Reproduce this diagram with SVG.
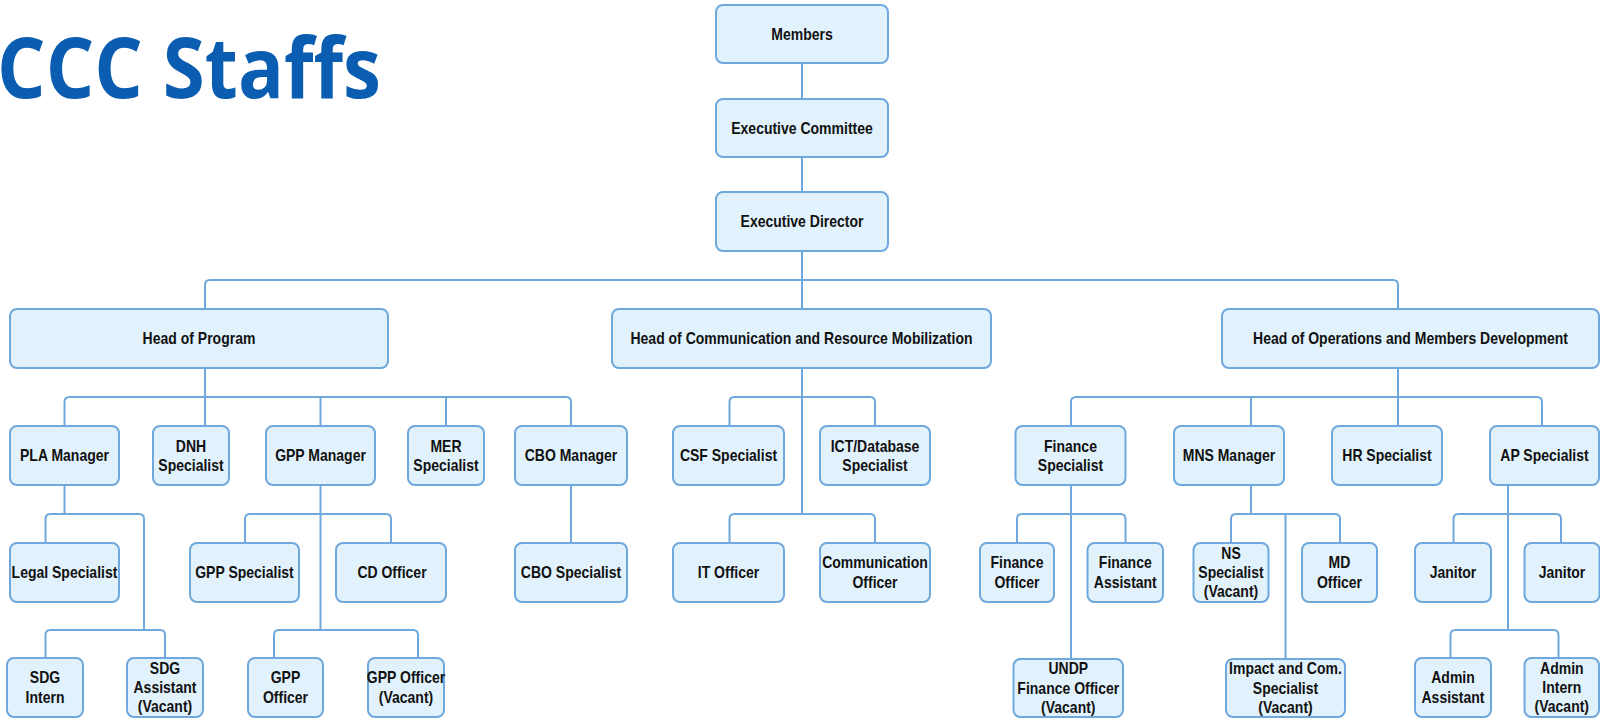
<svg xmlns="http://www.w3.org/2000/svg" width="1600" height="719" viewBox="0 0 1600 719">
<style>
.bx{fill:#E1F2FC;stroke:#6FA8DC;stroke-width:2}
.cn{fill:none;stroke:#6FA8DC;stroke-width:2}
.t{font-family:"Liberation Sans",Arial,sans-serif;font-weight:bold;font-size:14px;fill:#111;text-anchor:middle;transform-box:fill-box;transform-origin:center;transform:scaleY(1.15)}
.title{font-family:"Open Sans","Liberation Sans",sans-serif;font-weight:700;font-size:84px;fill:#0A5DB0}
</style>
<rect width="1600" height="719" fill="#ffffff"/>
<text class="title" x="-3" y="98" textLength="384" lengthAdjust="spacingAndGlyphs">CCC Staffs</text>

<g id="connectors">
<path class="cn" d="M802 63V99"/>
<path class="cn" d="M802 157V192"/>
<path class="cn" d="M802 251V309"/>
<path class="cn" d="M205 309V285Q205 280 210 280H1393Q1398 280 1398 285V309"/>
<path class="cn" d="M205 368V426"/>
<path class="cn" d="M64.5 426V402Q64.5 397 69.5 397H566Q571 397 571 402V426"/>
<path class="cn" d="M320.5 397V426M446 397V426"/>
<path class="cn" d="M64.5 485V514"/>
<path class="cn" d="M45.5 543V519Q45.5 514 50.5 514H139Q144 514 144 519V630"/>
<path class="cn" d="M45.5 658V635Q45.5 630 50.5 630H160Q165 630 165 635V658"/>
<path class="cn" d="M320.5 485V630"/>
<path class="cn" d="M245 543V519Q245 514 250 514H386Q391 514 391 519V543"/>
<path class="cn" d="M274 658V635Q274 630 279 630H413Q418 630 418 635V658"/>
<path class="cn" d="M571 485V543"/>
<path class="cn" d="M802 368V514"/>
<path class="cn" d="M729.5 426V402Q729.5 397 734.5 397H870Q875 397 875 402V426"/>
<path class="cn" d="M729.5 543V519Q729.5 514 734.5 514H870Q875 514 875 519V543"/>
<path class="cn" d="M1398 368V426"/>
<path class="cn" d="M1071 426V402Q1071 397 1076 397H1537Q1542 397 1542 402V426"/>
<path class="cn" d="M1251 397V426"/>
<path class="cn" d="M1071 485V659"/>
<path class="cn" d="M1017 543V519Q1017 514 1022 514H1120.5Q1125.5 514 1125.5 519V543"/>
<path class="cn" d="M1251 485V514"/>
<path class="cn" d="M1231 543V519Q1231 514 1236 514H1335Q1340 514 1340 519V543"/>
<path class="cn" d="M1285.5 514V659"/>
<path class="cn" d="M1508 485V630"/>
<path class="cn" d="M1453.5 543V519Q1453.5 514 1458.5 514H1556Q1561 514 1561 519V543"/>
<path class="cn" d="M1450.5 658V635Q1450.5 630 1455.5 630H1553.5Q1558.5 630 1558.5 635V658"/>
</g>

<g id="members"><rect class="bx" x="716" y="5" width="172" height="58" rx="7"/><text class="t" x="802" y="38.9">Members</text></g>
<g id="exec-committee"><rect class="bx" x="716" y="99" width="172" height="58" rx="7"/><text class="t" x="802" y="132.9">Executive Committee</text></g>
<g id="exec-director"><rect class="bx" x="716" y="192" width="172" height="59" rx="7"/><text class="t" x="802" y="226.4">Executive Director</text></g>

<g id="head-program"><rect class="bx" x="10" y="309" width="378" height="59" rx="7"/><text class="t" x="199" y="343.4">Head of Program</text></g>
<g id="head-comm"><rect class="bx" x="612" y="309" width="379" height="59" rx="7"/><text class="t" x="801.5" y="343.4">Head of Communication and Resource Mobilization</text></g>
<g id="head-ops"><rect class="bx" x="1222" y="309" width="377" height="59" rx="7"/><text class="t" x="1410.5" y="343.4">Head of Operations and Members Development</text></g>

<g id="pla-manager"><rect class="bx" x="10" y="426" width="109" height="59" rx="7"/><text class="t" x="64.5" y="460.4">PLA Manager</text></g>
<g id="dnh-specialist"><rect class="bx" x="153" y="426" width="76" height="59" rx="7"/><text class="t" x="191" y="452"><tspan x="191">DNH</tspan><tspan x="191" dy="16.8">Specialist</tspan></text></g>
<g id="gpp-manager"><rect class="bx" x="266" y="426" width="109" height="59" rx="7"/><text class="t" x="320.5" y="460.4">GPP Manager</text></g>
<g id="mer-specialist"><rect class="bx" x="408" y="426" width="76" height="59" rx="7"/><text class="t" x="446" y="452"><tspan x="446">MER</tspan><tspan x="446" dy="16.8">Specialist</tspan></text></g>
<g id="cbo-manager"><rect class="bx" x="515" y="426" width="112" height="59" rx="7"/><text class="t" x="571" y="460.4">CBO Manager</text></g>
<g id="csf-specialist"><rect class="bx" x="673" y="426" width="111" height="59" rx="7"/><text class="t" x="728.5" y="460.4">CSF Specialist</text></g>
<g id="ict-specialist"><rect class="bx" x="820" y="426" width="110" height="59" rx="7"/><text class="t" x="875" y="452"><tspan x="875">ICT/Database</tspan><tspan x="875" dy="16.8">Specialist</tspan></text></g>
<g id="finance-specialist"><rect class="bx" x="1015.5" y="426" width="110" height="59" rx="7"/><text class="t" x="1070.5" y="452"><tspan x="1070.5">Finance</tspan><tspan x="1070.5" dy="16.8">Specialist</tspan></text></g>
<g id="mns-manager"><rect class="bx" x="1174" y="426" width="110" height="59" rx="7"/><text class="t" x="1229" y="460.4">MNS Manager</text></g>
<g id="hr-specialist"><rect class="bx" x="1332" y="426" width="110" height="59" rx="7"/><text class="t" x="1387" y="460.4">HR Specialist</text></g>
<g id="ap-specialist"><rect class="bx" x="1490" y="426" width="109" height="59" rx="7"/><text class="t" x="1544.5" y="460.4">AP Specialist</text></g>

<g id="legal-specialist"><rect class="bx" x="10" y="543" width="109" height="59" rx="7"/><text class="t" x="64.5" y="577.4">Legal Specialist</text></g>
<g id="gpp-specialist"><rect class="bx" x="190" y="543" width="109" height="59" rx="7"/><text class="t" x="244.5" y="577.4">GPP Specialist</text></g>
<g id="cd-officer"><rect class="bx" x="336" y="543" width="110" height="59" rx="7"/><text class="t" x="392" y="577.4">CD Officer</text></g>
<g id="cbo-specialist"><rect class="bx" x="515" y="543" width="112" height="59" rx="7"/><text class="t" x="571" y="577.4">CBO Specialist</text></g>
<g id="it-officer"><rect class="bx" x="673" y="543" width="111" height="59" rx="7"/><text class="t" x="728.5" y="577.4">IT Officer</text></g>
<g id="comm-officer"><rect class="bx" x="820" y="543" width="110" height="59" rx="7"/><text class="t" x="875" y="569"><tspan x="875">Communication</tspan><tspan x="875" dy="16.8">Officer</tspan></text></g>
<g id="finance-officer"><rect class="bx" x="980" y="543" width="74" height="59" rx="7"/><text class="t" x="1017" y="569"><tspan x="1017">Finance</tspan><tspan x="1017" dy="16.8">Officer</tspan></text></g>
<g id="finance-assistant"><rect class="bx" x="1087.5" y="543" width="75.5" height="59" rx="7"/><text class="t" x="1125.3" y="569"><tspan x="1125.3">Finance</tspan><tspan x="1125.3" dy="16.8">Assistant</tspan></text></g>
<g id="ns-specialist"><rect class="bx" x="1193.5" y="543" width="75" height="59" rx="7"/><text class="t" x="1231" y="560.6"><tspan x="1231">NS</tspan><tspan x="1231" dy="16.8">Specialist</tspan><tspan x="1231" dy="16.8">(Vacant)</tspan></text></g>
<g id="md-officer"><rect class="bx" x="1302" y="543" width="75" height="59" rx="7"/><text class="t" x="1339.5" y="569"><tspan x="1339.5">MD</tspan><tspan x="1339.5" dy="16.8">Officer</tspan></text></g>
<g id="janitor-1"><rect class="bx" x="1415" y="543" width="76" height="59" rx="7"/><text class="t" x="1453" y="577.4">Janitor</text></g>
<g id="janitor-2"><rect class="bx" x="1524.5" y="543" width="75" height="59" rx="7"/><text class="t" x="1562" y="577.4">Janitor</text></g>

<g id="sdg-intern"><rect class="bx" x="7" y="658" width="76" height="59" rx="7"/><text class="t" x="45" y="684"><tspan x="45">SDG</tspan><tspan x="45" dy="16.8">Intern</tspan></text></g>
<g id="sdg-assistant"><rect class="bx" x="127" y="658" width="76" height="59" rx="7"/><text class="t" x="165" y="675.6"><tspan x="165">SDG</tspan><tspan x="165" dy="16.8">Assistant</tspan><tspan x="165" dy="16.8">(Vacant)</tspan></text></g>
<g id="gpp-officer-1"><rect class="bx" x="248" y="658" width="75" height="59" rx="7"/><text class="t" x="285.5" y="684"><tspan x="285.5">GPP</tspan><tspan x="285.5" dy="16.8">Officer</tspan></text></g>
<g id="gpp-officer-2"><rect class="bx" x="368" y="658" width="76" height="59" rx="7"/><text class="t" x="406" y="684"><tspan x="406">GPP Officer</tspan><tspan x="406" dy="16.8">(Vacant)</tspan></text></g>
<g id="undp-finance-officer"><rect class="bx" x="1013.5" y="659" width="109.5" height="58" rx="7"/><text class="t" x="1068.3" y="676"><tspan x="1068.3">UNDP</tspan><tspan x="1068.3" dy="16.8">Finance Officer</tspan><tspan x="1068.3" dy="16.8">(Vacant)</tspan></text></g>
<g id="impact-specialist"><rect class="bx" x="1226" y="659" width="119" height="58" rx="7"/><text class="t" x="1285.5" y="676"><tspan x="1285.5">Impact and Com.</tspan><tspan x="1285.5" dy="16.8">Specialist</tspan><tspan x="1285.5" dy="16.8">(Vacant)</tspan></text></g>
<g id="admin-assistant"><rect class="bx" x="1415" y="658" width="76" height="59" rx="7"/><text class="t" x="1453" y="684"><tspan x="1453">Admin</tspan><tspan x="1453" dy="16.8">Assistant</tspan></text></g>
<g id="admin-intern"><rect class="bx" x="1524.5" y="658" width="74.5" height="59" rx="7"/><text class="t" x="1561.8" y="675.6"><tspan x="1561.8">Admin</tspan><tspan x="1561.8" dy="16.8">Intern</tspan><tspan x="1561.8" dy="16.8">(Vacant)</tspan></text></g>
</svg>
